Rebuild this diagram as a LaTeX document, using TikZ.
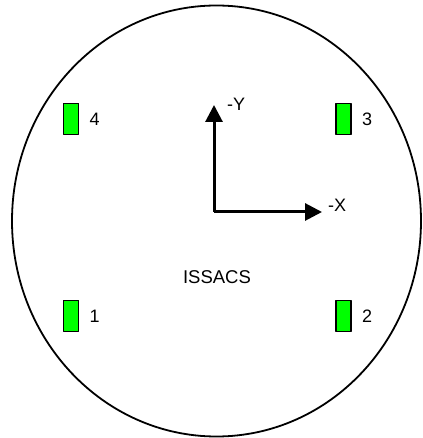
\documentclass[tikz,border=0pt]{standalone}
\usepackage{fontspec}
\setmainfont{Liberation Sans}
\usetikzlibrary{arrows.meta, positioning}
\definecolor{padg}{HTML}{00FF00}
\definecolor{ink}{HTML}{000000}
\tikzset{el/.style={line cap=round, line join=round},
  pad/.style={draw=ink, fill=padg, line width=1.6pt, minimum width=15pt, minimum height=31pt, inner sep=0pt},
  axis/.style={ink, line width=3pt, line cap=butt, -{Triangle[length=17pt, width=17pt]}},
  lbl/.style={font=\fontsize{18}{18}\selectfont, inner sep=0pt}}

\begin{document}
\begin{tikzpicture}[el, x=1pt, y=1pt]
  \useasboundingbox (0,0) rectangle (422,438);
  \draw[ink, line width=1.8pt] (216.5,217) ellipse (204.5 and 215.5);
  % thruster pads
  \node[pad] (p4) at (71,319) {};   \node[lbl, right=10pt of p4] (l4) {4};
  \node[pad] (p3) at (343.5,319) {};\node[lbl, right=10pt of p3] (l3) {3};
  \node[pad] (p1) at (71,122) {};   \node[lbl, right=10pt of p1] (l1) {1};
  \node[pad] (p2) at (343.5,122) {};\node[lbl, right=10pt of p2] (l2) {2};
  % body axes
  \coordinate (o) at (214,226);
  \coordinate (ytip) at (214,333);
  \coordinate (xtip) at (322,226);
  \draw[axis] (o) -- (ytip);
  \draw[axis] (o) -- (xtip);
  \node[lbl, anchor=west] (ly) at (227,334) {-Y};
  \node[lbl, anchor=west] (lx) at (328,233) {-X};
  \node[lbl, font=\fontsize{18.5}{18.5}\selectfont] (name) at (217,161) {ISSACS};
\end{tikzpicture}
\end{document}
